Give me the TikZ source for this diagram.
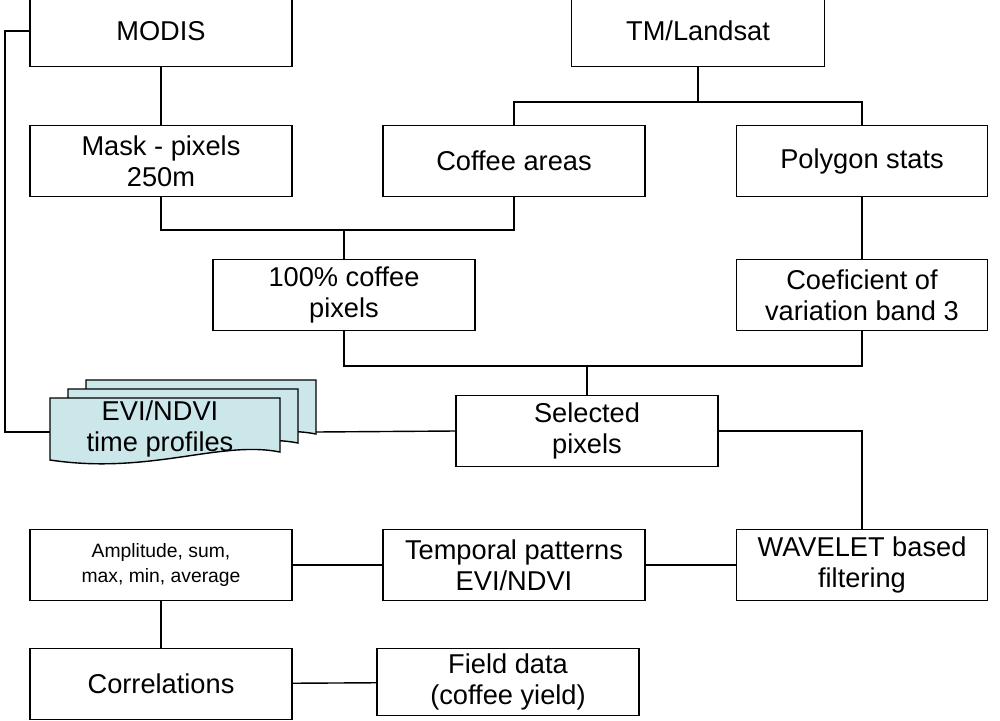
\documentclass[tikz,border=0pt]{standalone}
\usepackage{fontspec}
\setmainfont{Liberation Sans}
\definecolor{docfill}{RGB}{204,231,234}
\tikzstyle{box} = [draw,thick,minimum width=5.24cm,minimum height=1.42cm,align=center,font=\fontsize{15.5}{17.5}\selectfont,inner sep=1pt]
\tikzstyle{line} = [thick]
\begin{document}
\begin{tikzpicture}[x=0.02cm,y=-0.02cm]
\useasboundingbox (0,0) rectangle (1000,720);

% Boxes
\node [box] (modis) at (161,31) {MODIS};
\node [box,minimum width=5.06cm] (tm) at (698,31) {TM/Landsat};
\node [box] (mask) at (161,161) {Mask - pixels\\250m};
\node [box] (coffee) at (514,161) {Coffee areas};
\node [box,minimum width=5.02cm] (poly) at (862,161) {Polygon stats};
\node [box] (full) at (344,295) {100\% coffee\\pixels};
\node [box,minimum width=5.02cm] (coef) at (862,295) {Coeficient of\\variation band 3};
\node [box] (sel) at (587,431) {Selected\\pixels};
\node [box,font=\fontsize{11}{14.5}\selectfont] (ampl) at (161,565) {Amplitude, sum,\\max, min, average};
\node [box] (temp) at (514,565) {Temporal patterns\\EVI/NDVI};
\node [box,minimum width=5.02cm] (wave) at (862,565) {WAVELET based\\filtering};
\node [box] (corr) at (161,684) {Correlations};
\node [box,minimum height=1.34cm] (field) at (508,682) {Field data\\(coffee yield)};

% Stacked documents
\foreach \dx/\dy in {36/-18,18/-9,0/0}
  \draw [thick,fill=docfill] (50+\dx,398+\dy) -- (280+\dx,398+\dy) -- (280+\dx,452+\dy)
    .. controls (220+\dx,440+\dy) and (150+\dx,475+\dy) .. (50+\dx,460+\dy) -- cycle;
\node [font=\fontsize{15.5}{17.5}\selectfont,align=center] (evi) at (160,429) {EVI/NDVI\\time profiles};
\coordinate (evil) at (50,432);
\coordinate (evir) at (316,432);

% Connectors
\draw [line] (modis) -- (mask);
\draw [line] (tm.south) -- ++(0,35) coordinate (tmj);
\draw [line] (coffee.north) |- (tmj) -| (poly.north);
\draw [line] (mask.south) |- ++(0,33) coordinate (mj) -| (coffee.south);
\draw [line] (full.north) -- (full.north |- mj);
\draw [line] (poly) -- (coef);
\draw [line] (full.south) |- ++(0,35) coordinate (fj) -| (coef.south);
\draw [line] (sel.north) -- (sel.north |- fj);
\draw [line] (modis.west) -| (5,432) -- (evil);
\draw [line] (evir) -- (sel.west);
\draw [line] (sel.east) -| (wave.north);
\draw [line] (wave) -- (temp);
\draw [line] (temp) -- (ampl);
\draw [line] (ampl) -- (corr);
\draw [line] (corr) -- (field);

\end{tikzpicture}
\end{document}
